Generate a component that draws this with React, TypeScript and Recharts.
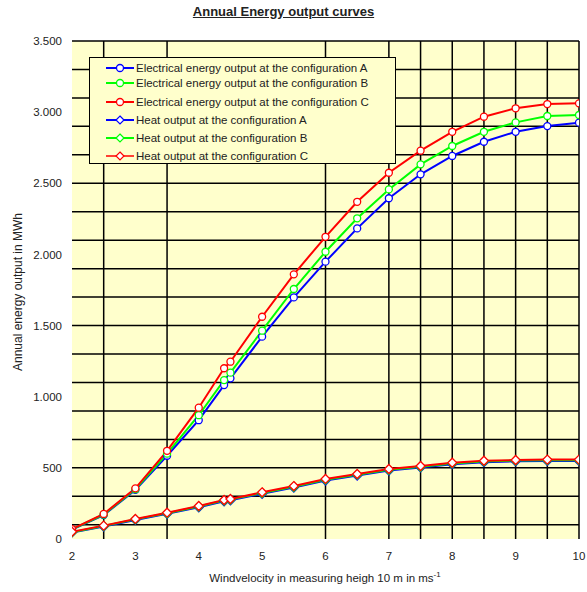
import React from 'react';
import { LineChart, Line, XAxis, YAxis, CartesianGrid } from 'recharts';

const windSpeed = [2, 2.5, 3, 3.5, 4, 4.4, 4.5, 5, 5.5, 6, 6.5, 7, 7.5, 8, 8.5, 9, 9.5, 10];
const elecA = [66, 168, 345, 585, 835, 1082, 1129, 1422, 1698, 1949, 2183, 2395, 2563, 2692, 2792, 2862, 2902, 2926];
const elecB = [67, 172, 350, 600, 870, 1117, 1169, 1464, 1757, 2019, 2254, 2457, 2633, 2762, 2862, 2928, 2973, 2980];
const elecC = [70, 176, 356, 620, 923, 1200, 1246, 1562, 1860, 2124, 2370, 2574, 2729, 2862, 2968, 3027, 3057, 3062];
const heatA = [46, 88, 134, 177, 223, 265, 272, 318, 362, 411, 446, 481, 503, 526, 540, 546, 549, 549];
const heatB = [48, 91, 138, 181, 228, 270, 277, 323, 367, 417, 452, 487, 508, 531, 545, 551, 554, 554];
const heatC = [51, 94, 141, 185, 232, 274, 281, 328, 372, 422, 457, 492, 513, 536, 550, 555, 558, 558];

const xTicks = [2, 3, 4, 5, 6, 7, 8, 9, 10];
const yTicks = [0, 500, 1000, 1500, 2000, 2500, 3000, 3500];
const gridX = [2.5, 3.5, 6, 7, 7.5, 8, 8.5, 9, 9.5, 10];
const gridY = [0, 100, 200, 300, 400, 500, 600, 700, 900, 1000, 1100, 1200, 1300, 1400, 1500, 1600, 1700, 1900, 2000, 2100, 2200, 2300, 2400, 2500, 2600, 2700, 2800, 2900, 3000, 3100, 3200, 3300, 3400, 3500];

const seriesNames = [
  'Electrical energy output at the configuration A',
  'Electrical energy output at the configuration B',
  'Electrical energy output at the configuration C',
  'Heat output at the configuration A',
  'Heat output at the configuration B',
  'Heat output at the configuration C',
];
const seriesKeys = ['eA', 'eB', 'eC', 'hA', 'hB', 'hC'];
const seriesColors = ['#0000FF', '#00FF00', '#FF0000', '#0000FF', '#00FF00', '#FF0000'];
const seriesKinds = ['circle', 'circle', 'circle', 'diamond', 'diamond', 'diamond'];

const data = windSpeed.map((x, i) => ({
  x,
  eA: elecA[i],
  eB: elecB[i],
  eC: elecC[i],
  hA: heatA[i],
  hB: heatB[i],
  hC: heatC[i],
}));

const FONT = '"Liberation Sans", Arial, sans-serif';
const TEXT = '#222';

const makeDiamond = (color: string) => (props: any) => {
  const { cx, cy, index } = props;
  if (cx == null || cy == null) return <g key={index} />;
  return (
    <path
      key={index}
      d={`M${cx},${cy - 4.5}L${cx + 4.5},${cy}L${cx},${cy + 4.5}L${cx - 4.5},${cy}Z`}
      fill="#fff"
      stroke={color}
      strokeWidth={1.3}
    />
  );
};

const fmt = (v: number) => {
  if (v >= 1000) {
    const th = Math.floor(v / 1000);
    const rest = String(v % 1000).padStart(3, '0');
    return `${th}.${rest}`;
  }
  return String(v);
};

const LegendBox = () => {
  const rowTops = [3, 18, 37, 55, 73, 91];
  return (
    <div
      style={{
        position: 'absolute',
        left: 89,
        top: 57,
        width: 307,
        height: 107,
        border: '1px solid #000',
        background: '#FFFFCC',
        boxSizing: 'border-box',
        fontFamily: FONT,
        fontSize: 11.5,
        color: TEXT,
      }}
    >
      {seriesNames.map((name, i) => (
        <div
          key={name}
          style={{ position: 'absolute', left: 16, top: rowTops[i], height: 14, display: 'flex', alignItems: 'center', whiteSpace: 'nowrap' }}
        >
          <svg width={28} height={14} style={{ marginRight: 2 }}>
            <line x1={0} y1={7} x2={28} y2={7} stroke={seriesColors[i]} strokeWidth={i === 5 ? 1.5 : 2} />
            {seriesKinds[i] === 'circle' ? (
              <circle cx={14} cy={7} r={3.5} fill="#fff" stroke={seriesColors[i]} strokeWidth={1.3} />
            ) : (
              <path d="M14,3L18,7L14,11L10,7Z" fill="#fff" stroke={seriesColors[i]} strokeWidth={1.2} />
            )}
          </svg>
          <span>{name}</span>
        </div>
      ))}
    </div>
  );
};

export default function App() {
  return (
    <div style={{ position: 'relative', width: 587, height: 592, background: '#fff' }}>
      <style>{`body{margin:0;}`}</style>
      <LineChart
        width={587}
        height={592}
        data={data}
        margin={{ top: 41, right: 8, bottom: 23, left: 12 }}
      >
        <CartesianGrid
          fill="#FFFFCC"
          stroke="#000"
          strokeWidth={1.5}
          horizontalValues={gridY}
          verticalValues={gridX}
          vertical={true}
          horizontal={true}
        />
        <XAxis
          dataKey="x"
          type="number"
          domain={[2, 10]}
          ticks={xTicks}
          axisLine={false}
          tickLine={false}
          tickMargin={7}
          height={30}
          tick={{ fontSize: 11.5, fill: TEXT, fontFamily: FONT }}
          allowDataOverflow
        />
        <YAxis
          type="number"
          domain={[0, 3500]}
          ticks={yTicks}
          axisLine={false}
          tickLine={false}
          tickMargin={4}
          width={60}
          tickFormatter={fmt}
          tick={{ fontSize: 11.5, fill: TEXT, fontFamily: FONT }}
          allowDataOverflow
        />
        {seriesKeys.map((k, i) => (
          <Line
            key={k}
            dataKey={k}
            type="linear"
            stroke={seriesColors[i]}
            strokeWidth={2}
            isAnimationActive={false}
            dot={
              seriesKinds[i] === 'circle'
                ? { r: 3.5, fill: '#fff', stroke: seriesColors[i], strokeWidth: 1.3 }
                : makeDiamond(seriesColors[i])
            }
            activeDot={false}
          />
        ))}
      </LineChart>
      <div
        style={{
          position: 'absolute',
          left: 0,
          width: 567,
          top: 4,
          textAlign: 'center',
          fontFamily: FONT,
          fontWeight: 'bold',
          fontSize: 13,
          color: TEXT,
          textDecoration: 'underline',
        }}
      >
        Annual Energy output curves
      </div>
      <div
        style={{
          position: 'absolute',
          left: 18,
          top: 292,
          transform: 'translate(-50%, -50%) rotate(-90deg)',
          whiteSpace: 'nowrap',
          fontFamily: FONT,
          fontSize: 12,
          color: TEXT,
        }}
      >
        Annual energy output in MWh
      </div>
      <div
        style={{
          position: 'absolute',
          left: 325,
          top: 570,
          transform: 'translateX(-50%)',
          whiteSpace: 'nowrap',
          fontFamily: FONT,
          fontSize: 11.5,
          color: TEXT,
        }}
      >
        Windvelocity in measuring heigh 10 m in ms<sup style={{ fontSize: 8 }}>-1</sup>
      </div>
      <LegendBox />
    </div>
  );
}
